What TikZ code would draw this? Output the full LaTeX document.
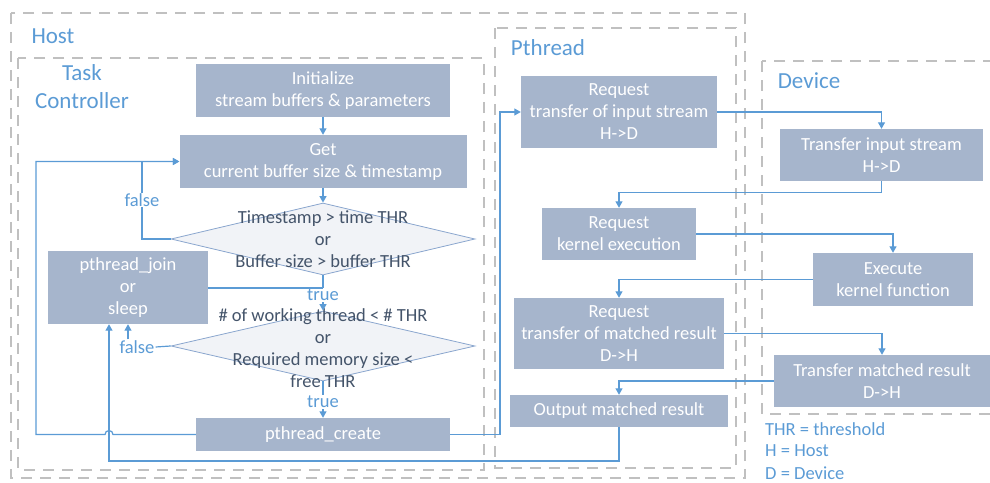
\documentclass[tikz,border=0pt]{standalone}
\usepackage{fontspec}
\setmainfont{Carlito}
\usetikzlibrary{arrows.meta,shapes.geometric}

\definecolor{boxfill}{HTML}{A6B5CC}
\definecolor{wire}{HTML}{5B9BD5}
\definecolor{framegray}{HTML}{C0C0C0}
\definecolor{dectext}{HTML}{44546A}
\definecolor{decline}{HTML}{8AA6CE}
\definecolor{decfill}{HTML}{F1F3F7}

\tikzset{
  zone/.style={draw=framegray, line width=2pt, dash pattern=on 11pt off 8pt},
  title/.style={text=wire, font=\fontsize{23}{28}\selectfont, inner sep=0pt, align=center},
  stepbox/.style={fill=boxfill, text=white, align=center,
    font=\fontsize{18.5}{22}\selectfont, inner sep=0pt},
  sz/.style 2 args={minimum width=#1pt, minimum height=#2pt},
  decision/.style={diamond, draw=decline, fill=decfill, line width=0.8pt,
    inner sep=0pt, minimum width=304pt, minimum height=72pt},
  dectxt/.style={text=dectext, align=center, font=\fontsize{18.5}{22}\selectfont, inner sep=0pt},
  lbl/.style={text=wire, font=\fontsize{18.5}{22}\selectfont, inner sep=1pt},
  link/.style={draw=wire, line width=1.2pt},
  flow/.style={link, -{Triangle[width=7pt,length=6.5pt]}},
}

\begin{document}
\begin{tikzpicture}[x=1pt,y=-1pt]
\useasboundingbox (0,0) rectangle (990,482);
\clip (0,0) rectangle (990,482);

% dashed regions
\draw[zone] (11,13) rectangle (745,478);
\draw[zone] (18,58) rectangle (484,470);
\draw[zone] (495,28) rectangle (736,468);
\draw[zone] (762,61) rectangle (1000,414);

% region titles
\node[title] (host) at (53,36) {Host};
\node[title] (task) at (82,87) {Task\\Controller};
\node[title] (pth) at (548,48) {Pthread};
\node[title] (dev) at (809,81) {Device};

% task controller
\node[stepbox, sz={254}{53}] (init) at (323,90.5) {Initialize\\stream buffers \& parameters};
\node[stepbox, sz={287}{53}] (get) at (323,161.5) {Get\\current buffer size \& timestamp};
\node[decision] (d1) at (323,239) {};
\node[dectxt] (d1t) at (323,239) {Timestamp > time THR\\or\\Buffer size > buffer THR};
\node[stepbox, sz={160}{73}] (join) at (128,287.5) {pthread\_join\\or\\sleep};
\node[decision, minimum height=70pt] (d2) at (323,346) {};
\node[dectxt] (d2t) at (323,348) {\# of working thread < \# THR\\or\\Required memory size <\\free THR};
\node[stepbox, sz={254}{33}] (create) at (323,434.5) {pthread\_create};

% pthread
\node[stepbox, sz={196}{72}] (req1) at (619,112) {Request\\transfer of input stream\\H->D};
\node[stepbox, sz={154}{52}] (req2) at (619,234) {Request\\kernel execution};
\node[stepbox, sz={210}{71}] (req3) at (619,333.5) {Request\\transfer of matched result\\D->H};
\node[stepbox, sz={218}{32}] (out) at (619,411) {Output matched result};

% device
\node[stepbox, sz={203}{52}] (dev1) at (881.5,155) {Transfer input stream\\H->D};
\node[stepbox, sz={160}{53}] (dev2) at (893,279.5) {Execute\\kernel function};
\node[stepbox, sz={216}{52}] (dev3) at (882,381) {Transfer matched result\\D->H};

% legend
\node[lbl, anchor=west, inner sep=0pt] (leg1) at (765,429) {THR = threshold};
\node[lbl, anchor=west, inner sep=0pt] (leg2) at (765,451) {H = Host};
\node[lbl, anchor=west, inner sep=0pt] (leg3) at (765,473) {D = Device};

% task controller flow
\draw[flow] (init) -- (get);
\draw[flow] (get.south) -- (d1.north);
\draw[flow] (d1.south) -- (d2.north);
\node[lbl, fill=white] (t1) at (323,295) {true};
\draw[link] (join.east |- 0,288) -- (323,288);
\draw[flow] (d2.south) -- (create.north);
\node[lbl, fill=white] (t2) at (323,402) {true};

\draw[flow] (d1.west) -| (142,161.5) -- (get.west);
\node[lbl, fill=white] (f1) at (142,200) {false};

\node[lbl] (f2) at (137,347) {false};
\draw[link] (d2.west) -- (f2.east);
\draw[flow] (f2.north -| join.south) -- (join.south);

% loop back from pthread_create, hopping over the return line
\coordinate (hopR) at (113,434.5);
\draw[flow] (create.west) -- (hopR) arc[start angle=0, end angle=-180, radius=4]
  -- (36,434.5) |- (get.west);

% return path from the thread output
\coordinate (ret) at (109,461);
\draw[flow] (out.south) |- (ret) -- (ret |- join.south);

% spawn a thread
\coordinate (spawn) at (500,434.5);
\draw[flow] (create.east) -- (spawn) |- (req1.west);

% pthread <-> device
\draw[flow] (req1.east) -| (dev1.north);
\draw[flow] (dev1.south) -- ++(0,11) -| (req2.north);
\draw[flow] (req2.east) -| (dev2.north);
\draw[flow] (dev2.west) -| (req3.north);
\draw[flow] (req3.east) -| (dev3.north);
\draw[flow] (dev3.west) -| (out.north);
\end{tikzpicture}
\end{document}
